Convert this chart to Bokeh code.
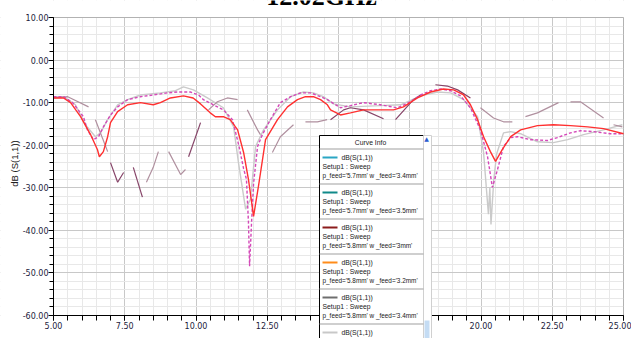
import math
import numpy as np
from bokeh.plotting import figure
from bokeh.models import FixedTicker, NumeralTickFormatter, Label, BoxAnnotation, Range1d
from bokeh.embed import file_html
from bokeh.resources import INLINE

# ---------------- data ----------------
x_ticks = [5.0, 7.5, 10.0, 12.5, 15.0, 17.5, 20.0, 22.5, 25.0]
y_ticks = [-60, -50, -40, -30, -20, -10, 0, 10]

red_f = [5.0, 5.35, 5.6, 5.95, 6.3, 6.54, 6.61, 6.75, 6.9, 7.0, 7.25, 7.6, 8.05, 8.5, 8.75, 9.1, 9.56, 9.9,
         10.16, 10.5, 10.68, 10.96, 11.2, 11.46, 11.67, 11.84, 12.02, 12.19, 12.44, 12.86, 13.21, 13.56, 13.84,
         14.12, 14.37, 14.61, 14.72, 15.07, 15.42, 15.88, 16.47, 16.93, 17.28, 17.77, 18.23, 18.68, 19.04, 19.39,
         19.63, 19.88, 20.09, 20.33, 20.51, 20.75, 21.04, 21.39, 21.98, 22.54, 23.14, 23.74, 24.3, 25.0]
red_db = [-8.9, -8.9, -10.0, -13.3, -17.5, -21.0, -22.7, -21.5, -18.0, -14.7, -12.1, -10.5, -10.0, -10.5, -10.0,
          -8.9, -8.4, -8.9, -10.3, -12.4, -13.3, -13.3, -14.0, -16.4, -21.7, -28.0, -36.7, -29.7, -18.7, -14.0,
          -11.0, -9.3, -8.6, -8.6, -9.3, -10.5, -11.7, -12.9, -12.4, -11.7, -11.7, -11.7, -11.0, -8.9, -7.5, -6.8,
          -7.0, -8.2, -10.5, -14.0, -18.0, -21.5, -23.8, -21.0, -18.0, -16.4, -15.4, -15.2, -15.4, -15.7, -16.1,
          -17.3]

pink_f = [5.0, 5.35, 5.67, 6.05, 6.19, 6.4, 6.58, 6.75, 7.0, 7.25, 7.6, 8.05, 8.5, 9.0, 9.35, 9.8, 10.09, 10.26,
          10.61, 10.96, 11.28, 11.5, 11.67, 11.77, 11.84, 11.88, 11.95, 12.02, 12.16, 12.33, 12.61, 12.96, 13.32,
          13.67, 14.02, 14.37, 14.61, 15.07, 15.42, 15.88, 16.47, 17.07, 17.53, 17.88, 18.23, 18.58, 18.93, 19.28,
          19.63, 19.98, 20.23, 20.4, 20.58, 20.79, 21.04, 21.28, 21.74, 22.33, 22.68, 23.14, 23.49, 23.95, 24.54,
          25.0]
pink_db = [-8.6, -8.6, -10.0, -13.3, -16.4, -18.7, -18.0, -15.7, -12.9, -11.0, -9.3, -8.6, -8.2, -7.7, -7.5,
           -7.5, -8.2, -9.3, -10.5, -11.7, -14.0, -20.0, -25.5, -28.0, -38.0, -48.4, -38.0, -29.0, -20.3, -17.5,
           -14.0, -10.0, -8.6, -7.7, -7.7, -8.6, -9.3, -11.2, -10.7, -10.0, -10.5, -11.2, -9.8, -8.2, -7.2, -6.8,
           -7.2, -8.4, -11.2, -16.4, -22.7, -29.9, -25.7, -20.3, -18.2, -18.0, -18.7, -18.9, -18.2, -17.1, -16.6,
           -16.8, -17.3, -17.3]

grey_f = [5.0, 5.35, 5.77, 6.12, 6.47, 6.65, 6.9, 7.25, 7.6, 8.05, 8.75, 9.28, 9.56, 9.91, 10.4, 10.96, 11.32,
          11.49, 11.74, 11.91, 12.09, 12.37, 12.86, 13.32, 13.77, 14.12, 14.47, 14.82, 15.42, 16.47, 17.18, 17.88,
          18.47, 18.93, 19.39, 19.88, 20.09, 20.26, 20.31, 20.35, 20.45, 20.55, 20.79, 21.04, 21.39, 21.98, 22.54,
          23.04, 23.6, 24.3, 24.96]
grey_db = [-8.6, -8.6, -10.5, -15.2, -18.0, -17.1, -14.0, -10.5, -9.3, -8.2, -7.7, -7.2, -6.3, -7.0, -8.9, -11.2,
           -15.7, -24.1, -35.0, -32.7, -20.3, -16.4, -11.7, -8.6, -7.5, -7.7, -8.6, -10.3, -11.0, -10.7, -10.5, -8.4,
           -7.5, -7.7, -9.3, -13.3, -21.7, -36.2, -30.0, -38.6, -28.0, -22.0, -17.1, -16.8, -17.3, -19.2, -19.4,
           -18.7, -17.5, -16.4, -15.2]

mauve_dark_f = [[7.0, 7.25, 7.46], [7.8, 8.12], [9.74, 10.16],
                [14.72, 15.18, 15.42, 15.88, 16.58], [17.0, 17.63, 17.88], [18.4, 18.82, 19.18, 19.63]]
mauve_dark_db = [[-24.1, -28.7, -26.4], [-25.2, -32.2], [-22.7, -14.7],
                 [-14.0, -11.7, -11.2, -11.7, -13.8], [-14.0, -9.3, -8.2], [-5.8, -6.1, -7.0, -8.9]]
mauve_light_f = [[5.0, 5.5, 6.23], [6.47, 6.9], [8.26, 8.5, 8.68], [9.04, 9.46, 9.63],
                 [10.44, 10.75, 11.1, 11.46], [11.8, 12.16, 12.26], [12.68, 12.96, 13.42], [13.84, 14.26, 14.6],
                 [19.98, 20.44, 20.79, 21.1], [21.56, 21.98, 22.72], [23.14, 23.49, 24.3], [24.65, 24.96]]
mauve_light_db = [[-8.9, -8.6, -11.0], [-14.0, -21.5], [-28.7, -25.2, -21.5], [-21.5, -26.9, -25.7],
                  [-11.7, -9.8, -8.9, -9.3], [-11.7, -16.4, -17.5], [-21.7, -18.0, -15.2], [-14.5, -14.5, -14.0],
                  [-11.2, -13.6, -14.5, -14.5], [-13.3, -12.4, -10.0], [-9.8, -9.8, -13.6], [-15.2, -15.7]]

legend_colors = ["#2aa6c4", "#108a8a", "#8b1c1c", "#ff8c1a", "#6e6e6e", "#c8c8c8"]
legend_params = ["p_feed='5.7mm' w _feed='3.4mm'", "p_feed='5.7mm' w _feed='3.5mm'",
                 "p_feed='5.8mm' w _feed='3mm'", "p_feed='5.8mm' w _feed='3.2mm'",
                 "p_feed='5.8mm' w _feed='3.4mm'", ""]

# ---------------- layout (page pixels) ----------------
W, H = 631, 338
BOX_L, BOX_R, BOX_T, BOX_B = 53, 623, 17, 315   # plotting box inside the page
X0, X1, Y0, Y1 = 5.0, 25.0, -60.0, 10.0
kx = (BOX_R - BOX_L) / (X1 - X0)
ky = (BOX_B - BOX_T) / (Y1 - Y0)

p = figure(width=W, height=H,
           x_range=Range1d(X0 - BOX_L / kx, X1 + (W - BOX_R) / kx),
           y_range=Range1d(Y0 - (H - BOX_B) / ky, Y1 + BOX_T / ky),
           output_backend="svg", toolbar_location=None,
           min_border_left=0, min_border_right=0, min_border_top=0, min_border_bottom=0)
p.title.visible = False
p.background_fill_color = "white"
p.border_fill_color = "white"
p.outline_line_color = None

xt = FixedTicker(ticks=x_ticks, minor_ticks=list(np.arange(X0, X1 + 0.01, 0.5)))
yt = FixedTicker(ticks=y_ticks, minor_ticks=list(np.arange(Y0, Y1 + 0.01, 2)))
p.xaxis.ticker = xt
p.yaxis.ticker = yt
p.xgrid.ticker = xt
p.ygrid.ticker = yt
p.xaxis.fixed_location = Y0
p.yaxis.fixed_location = X0
p.xaxis.bounds = (X0, X1)
p.yaxis.bounds = (Y0, Y1)
for ax in (p.xaxis, p.yaxis):
    ax.formatter = NumeralTickFormatter(format="0.00")
    ax.axis_line_color = "black"
    ax.major_tick_line_color = "black"
    ax.minor_tick_line_color = "black"
    ax.major_tick_in = 0
    ax.minor_tick_in = 0
    ax.major_label_text_font = "DejaVu Sans"
    ax.major_label_text_font_size = "8px"
    ax.major_label_text_color = "#1c1c3c"
p.yaxis.major_tick_out = 5
p.yaxis.minor_tick_out = 4
p.yaxis.major_label_standoff = 0
p.xaxis.major_tick_out = 5
p.xaxis.minor_tick_out = 5
p.xaxis.major_label_standoff = 1
for g in (p.xgrid, p.ygrid):
    g.grid_line_color = "#c8c8c8"
    g.minor_grid_line_color = "#e8e8e8"

# white margins outside the plotting box (hide grid overflow)
for kw in (dict(right=X0), dict(left=X1), dict(top=Y0), dict(bottom=Y1)):
    p.add_layout(BoxAnnotation(fill_color="white", fill_alpha=1.0, line_alpha=0.0, level="underlay", **kw))
# plotting box border
p.add_layout(BoxAnnotation(left=X0, right=X1, bottom=Y0, top=Y1, fill_alpha=0.0,
                           line_color="#404040", line_width=1, level="underlay"))

# ---------------- curves ----------------
p.line(grey_f, grey_db, line_color="#cacaca", line_width=1.4)
p.multi_line(mauve_light_f, mauve_light_db, line_color="#b0909f", line_width=1.2)
p.multi_line(mauve_dark_f, mauve_dark_db, line_color="#864468", line_width=1.2)
p.line(pink_f, pink_db, line_color="#d448b8", line_width=1.4, line_dash="3 2")
p.line(red_f, red_db, line_color="#ff3030", line_width=1.4)

# ---------------- annotations (page pixels) ----------------
def fx(X): return X
def fy(Y): return H - Y

def box(x0, x1, y0, y1, fill, line=None):
    p.add_layout(BoxAnnotation(left=fx(x0), right=fx(x1), top=fy(y0), bottom=fy(y1),
                               left_units="screen", right_units="screen", top_units="screen",
                               bottom_units="screen", fill_color=fill, fill_alpha=1.0,
                               line_color=line, line_alpha=1.0 if line else 0.0, line_width=1,
                               level="overlay"))

def text(X, Y, t, size="6.8px", align="left", color="#202020", font="Liberation Sans", **kw):
    p.add_layout(Label(x=fx(X), y=fy(Y), x_units="screen", y_units="screen", text=t,
                       text_font=font, text_font_size=size, text_align=align,
                       text_baseline="middle", text_color=color, level="overlay", **kw))

# title (only its lower part lies inside the page, as in the original)
p.add_layout(Label(x=fx(321), y=fy(-4), x_units="screen", y_units="screen", text="12.02GHz",
                   text_font="Liberation Serif", text_font_style="bold", text_font_size="26px",
                   text_align="center", text_baseline="alphabetic", text_color="black"))
# y-axis label
text(14, 163, "dB (S(1,1))", size="9.5px", align="center", color="#202020", angle=math.pi / 2)

# legend "Curve Info"
box(319, 423, 135, 345, "white", "black")
box(423, 431, 135, 345, "white", "#d0d0d0")
box(424, 429, 320, 345, "#c4dcf4")
text(426, 138, "▲", size="6px", align="center", color="#2a5bd0", font="DejaVu Sans")
text(370, 142, "Curve Info", size="6.8px", align="center")
box(319, 423, 148, 149, "#a0a0a0")
for i in range(6):
    base = 157 + i * 35
    box(322, 337, base - 1, base + 1, legend_colors[i])
    text(341, base, "dB(S(1,1))")
    if legend_params[i]:
        text(322, base + 9, "Setup1 : Sweep")
        text(322, base + 17.5, legend_params[i], size="6.4px")
        box(319, 423, base + 26, base + 27, "#a0a0a0")

open("out.html", "w").write(file_html(p, INLINE))
